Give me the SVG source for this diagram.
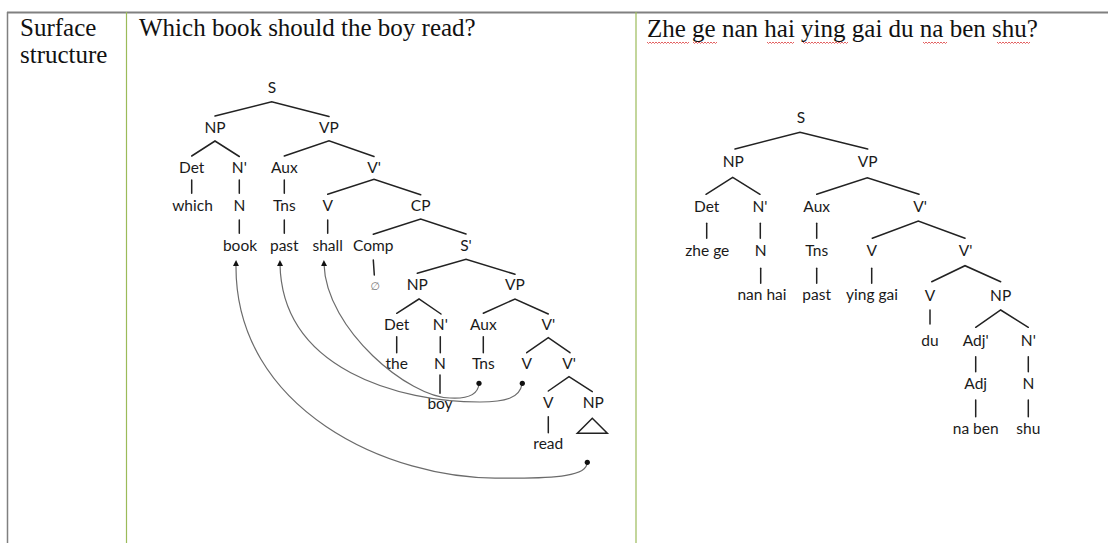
<svg xmlns="http://www.w3.org/2000/svg" width="1108" height="543" viewBox="0 0 1108 543">
  <style>
    .cell { font-family: "Liberation Serif", "Times New Roman", serif; font-size: 25px; fill: #111; }
    .lab { font-family: Lato, "Open Sans", sans-serif; font-size: 15.5px; fill: #1a1a1a; text-anchor: middle; }
    .null { font-family: "DejaVu Sans", sans-serif; font-size: 11px; font-style: italic; fill: #777; text-anchor: middle; }
    .br { stroke: #222; stroke-width: 1.5; fill: none; stroke-linecap: round; }
    .mv { stroke: #6b6b6b; stroke-width: 1.2; fill: none; }
    .dot { fill: #111; }
    .rule { stroke: #808080; stroke-width: 2; }
    .col { stroke: #9bbb59; stroke-width: 1.2; }
    .spell { stroke: #e05050; stroke-width: 0.9; fill: none; }
  </style>
  <defs>
    <marker id="up" markerUnits="userSpaceOnUse" markerWidth="8" markerHeight="8" refX="2" refY="4" orient="auto">
      <path d="M0,1 L6,4 L0,7 Z" fill="#111"/>
    </marker>
  </defs>

  <rect width="1108" height="543" fill="#ffffff"/>

  <!-- table frame -->
  <g id="table">
    <line class="rule" x1="7" y1="12.5" x2="1108" y2="12.5"/>
    <line x1="7.5" y1="12" x2="7.5" y2="543" stroke="#808080" stroke-width="1.5"/>
    <line class="col" x1="126.5" y1="12" x2="126.5" y2="543"/>
    <line class="col" x1="636" y1="12" x2="636" y2="543"/>
    <text class="cell" x="20" y="36">Surface</text>
    <text class="cell" x="20" y="63">structure</text>
    <text class="cell" x="139" y="36">Which book should the boy read?</text>
    <text class="cell" x="647" y="37">Zhe ge nan hai ying gai du na ben shu?</text>
    <!-- spell-check squiggles -->
    <path class="spell" d="M647 42 l1.5 1.5 l1.5 -1.5 l1.5 1.5 l1.5 -1.5 l1.5 1.5 l1.5 -1.5 l1.5 1.5 l1.5 -1.5 l1.5 1.5 l1.5 -1.5 l1.5 1.5 l1.5 -1.5 l1.5 1.5 l1.5 -1.5 l1.5 1.5 l1.5 -1.5 l1.5 1.5 l1.5 -1.5 l1.5 1.5 l1.5 -1.5 l1.5 1.5 l1.5 -1.5 l1.5 1.5 l1.5 -1.5 l1.5 1.5 l1.5 -1.5 l1.5 1.5 l1.5 -1.5"/>
    <path class="spell" d="M693 42 l1.5 1.5 l1.5 -1.5 l1.5 1.5 l1.5 -1.5 l1.5 1.5 l1.5 -1.5 l1.5 1.5 l1.5 -1.5 l1.5 1.5 l1.5 -1.5 l1.5 1.5 l1.5 -1.5 l1.5 1.5 l1.5 -1.5 l1.5 1.5 l1.5 -1.5"/>
    <path class="spell" d="M767 42 l1.5 1.5 l1.5 -1.5 l1.5 1.5 l1.5 -1.5 l1.5 1.5 l1.5 -1.5 l1.5 1.5 l1.5 -1.5 l1.5 1.5 l1.5 -1.5 l1.5 1.5 l1.5 -1.5 l1.5 1.5 l1.5 -1.5 l1.5 1.5 l1.5 -1.5 l1.5 1.5 l1.5 -1.5"/>
    <path class="spell" d="M803 42 l1.5 1.5 l1.5 -1.5 l1.5 1.5 l1.5 -1.5 l1.5 1.5 l1.5 -1.5 l1.5 1.5 l1.5 -1.5 l1.5 1.5 l1.5 -1.5 l1.5 1.5 l1.5 -1.5 l1.5 1.5 l1.5 -1.5 l1.5 1.5 l1.5 -1.5 l1.5 1.5 l1.5 -1.5 l1.5 1.5 l1.5 -1.5 l1.5 1.5 l1.5 -1.5 l1.5 1.5 l1.5 -1.5 l1.5 1.5 l1.5 -1.5 l1.5 1.5 l1.5 -1.5 l1.5 1.5 l1.5 -1.5"/>
    <path class="spell" d="M923 42 l1.5 1.5 l1.5 -1.5 l1.5 1.5 l1.5 -1.5 l1.5 1.5 l1.5 -1.5 l1.5 1.5 l1.5 -1.5 l1.5 1.5 l1.5 -1.5 l1.5 1.5 l1.5 -1.5 l1.5 1.5 l1.5 -1.5 l1.5 1.5 l1.5 -1.5"/>
    <path class="spell" d="M997 42 l1.5 1.5 l1.5 -1.5 l1.5 1.5 l1.5 -1.5 l1.5 1.5 l1.5 -1.5 l1.5 1.5 l1.5 -1.5 l1.5 1.5 l1.5 -1.5 l1.5 1.5 l1.5 -1.5 l1.5 1.5 l1.5 -1.5 l1.5 1.5 l1.5 -1.5 l1.5 1.5 l1.5 -1.5 l1.5 1.5 l1.5 -1.5 l1.5 1.5 l1.5 -1.5"/>
  </g>

  <!-- English tree: labels -->
  <g id="tree-en">
    <text class="lab" x="272" y="93">S</text>
    <text class="lab" x="215" y="133">NP</text>
    <text class="lab" x="329" y="133">VP</text>
    <text class="lab" x="191.7" y="173">Det</text>
    <text class="lab" x="239.3" y="173">N'</text>
    <text class="lab" x="284.3" y="173">Aux</text>
    <text class="lab" x="374" y="173">V'</text>
    <text class="lab" x="192.5" y="211">which</text>
    <text class="lab" x="239.3" y="211">N</text>
    <text class="lab" x="284.3" y="211">Tns</text>
    <text class="lab" x="327.7" y="211">V</text>
    <text class="lab" x="420.7" y="211">CP</text>
    <text class="lab" x="240" y="251">book</text>
    <text class="lab" x="284.3" y="251">past</text>
    <text class="lab" x="327.7" y="251">shall</text>
    <text class="lab" x="373.3" y="251">Comp</text>
    <text class="lab" x="466" y="251">S'</text>
    <text class="null" x="375" y="290">∅</text>
    <text class="lab" x="417.3" y="290">NP</text>
    <text class="lab" x="515" y="290">VP</text>
    <text class="lab" x="396.7" y="330">Det</text>
    <text class="lab" x="440.3" y="330">N'</text>
    <text class="lab" x="483.3" y="330">Aux</text>
    <text class="lab" x="548.3" y="330">V'</text>
    <text class="lab" x="396.7" y="369">the</text>
    <text class="lab" x="440" y="369">N</text>
    <text class="lab" x="483.3" y="369">Tns</text>
    <text class="lab" x="526.7" y="369">V</text>
    <text class="lab" x="569" y="369">V'</text>
    <text class="lab" x="440" y="408.5">boy</text>
    <text class="lab" x="548.3" y="408">V</text>
    <text class="lab" x="593.3" y="408">NP</text>
    <text class="lab" x="548.3" y="448.5">read</text>
  </g>

  <!-- English tree: branches -->
  <g id="branches-en" class="br">
    <polyline points="215,116 271.7,101.7 329,116.5"/>
    <polyline points="191.7,156 215,141 239.3,156.5"/>
    <polyline points="284.3,156 329,140.7 374,156.5"/>
    <line x1="191.7" y1="180" x2="191.7" y2="193.3"/>
    <line x1="239.3" y1="180" x2="239.3" y2="193.3"/>
    <line x1="284.3" y1="180" x2="284.3" y2="193.3"/>
    <polyline points="327.7,194.3 374,179.3 420.7,194.7"/>
    <line x1="239.3" y1="220" x2="239.3" y2="233.3"/>
    <line x1="284.3" y1="220" x2="284.3" y2="233.3"/>
    <line x1="327.7" y1="220" x2="327.7" y2="233.3"/>
    <polyline points="373.3,234.3 420.7,219 466,234"/>
    <line x1="373.3" y1="260" x2="374.3" y2="275"/>
    <polyline points="417.3,273.3 466,259.3 515,274.3"/>
    <polyline points="396.7,313.3 419,299 441,314"/>
    <polyline points="483.3,313.3 515,299 548.3,314"/>
    <line x1="396.7" y1="336.7" x2="396.7" y2="352.7"/>
    <line x1="440.3" y1="336.7" x2="440.3" y2="352.7"/>
    <line x1="483.3" y1="336.7" x2="483.3" y2="352.7"/>
    <polyline points="526.7,352.7 548.3,337.7 570,352.7"/>
    <line x1="440" y1="375" x2="440" y2="393.3"/>
    <polyline points="548.3,391 569,376.7 592.3,391.7"/>
    <line x1="548.3" y1="416.7" x2="548.3" y2="432.7"/>
    <polygon points="592.3,418.3 577.3,433.3 607.3,433.3" stroke-linejoin="miter"/>
  </g>

  <!-- movement connectors -->
  <g id="movement">
    <path class="mv" marker-end="url(#up)" d="M587 463 C587 475 560 479 500 478 C390 480 234 410 236 264"/>
    <path class="mv" marker-end="url(#up)" d="M522 384 C520 398 505 402 480 402 C400 402 282 370 280 264"/>
    <path class="mv" marker-end="url(#up)" d="M479 384 C478 394 468 399 450 398 C410 398 326 330 324 264"/>
    <circle class="dot" cx="587.3" cy="462.3" r="2.6"/>
    <circle class="dot" cx="522.3" cy="383.3" r="2.6"/>
    <circle class="dot" cx="479" cy="383.3" r="2.6"/>
  </g>

  <!-- Mandarin tree: labels -->
  <g id="tree-zh">
    <text class="lab" x="801" y="122.5">S</text>
    <text class="lab" x="733.3" y="167.3">NP</text>
    <text class="lab" x="867.7" y="167.3">VP</text>
    <text class="lab" x="706.7" y="212.3">Det</text>
    <text class="lab" x="760" y="212.3">N'</text>
    <text class="lab" x="816.7" y="212.3">Aux</text>
    <text class="lab" x="920" y="212.3">V'</text>
    <text class="lab" x="707.3" y="255.7">zhe ge</text>
    <text class="lab" x="760.7" y="255.7">N</text>
    <text class="lab" x="816.7" y="255.7">Tns</text>
    <text class="lab" x="871.7" y="255.7">V</text>
    <text class="lab" x="965.7" y="255.7">V'</text>
    <text class="lab" x="762" y="300">nan hai</text>
    <text class="lab" x="816.7" y="300">past</text>
    <text class="lab" x="872" y="300">ying gai</text>
    <text class="lab" x="930" y="300.5">V</text>
    <text class="lab" x="1000.7" y="300.5">NP</text>
    <text class="lab" x="930" y="345.5">du</text>
    <text class="lab" x="975.7" y="345.5">Adj'</text>
    <text class="lab" x="1028.3" y="345.5">N'</text>
    <text class="lab" x="975.7" y="389.3">Adj</text>
    <text class="lab" x="1028.3" y="389.3">N</text>
    <text class="lab" x="975.7" y="434">na ben</text>
    <text class="lab" x="1028.3" y="434">shu</text>
  </g>

  <!-- Mandarin tree: branches -->
  <g id="branches-zh" class="br">
    <polyline points="735,149 800,132.3 867.7,149"/>
    <polyline points="706,194.3 732.7,177.3 760,194.3"/>
    <polyline points="816.7,194.3 867.3,177.7 919,194.3"/>
    <line x1="706.7" y1="223.3" x2="706.7" y2="238.3"/>
    <line x1="760.3" y1="223.3" x2="760.3" y2="238.3"/>
    <line x1="816.7" y1="223.3" x2="816.7" y2="238.3"/>
    <polyline points="872.3,238.3 918.3,221 965,238.3"/>
    <line x1="760.7" y1="268.3" x2="760.7" y2="283.3"/>
    <line x1="816.7" y1="268.3" x2="816.7" y2="283.3"/>
    <line x1="871.7" y1="268.3" x2="871.7" y2="283.3"/>
    <polyline points="931.7,281.7 965,265.7 1000.7,281.7"/>
    <line x1="930" y1="310" x2="930" y2="324"/>
    <polyline points="975.7,327.3 1000.7,310 1028.3,327.3"/>
    <line x1="975.7" y1="356.7" x2="975.7" y2="371.7"/>
    <line x1="1028.3" y1="356.7" x2="1028.3" y2="371.7"/>
    <line x1="975.7" y1="400" x2="975.7" y2="416.7"/>
    <line x1="1028.3" y1="400" x2="1028.3" y2="416.7"/>
  </g>
</svg>
